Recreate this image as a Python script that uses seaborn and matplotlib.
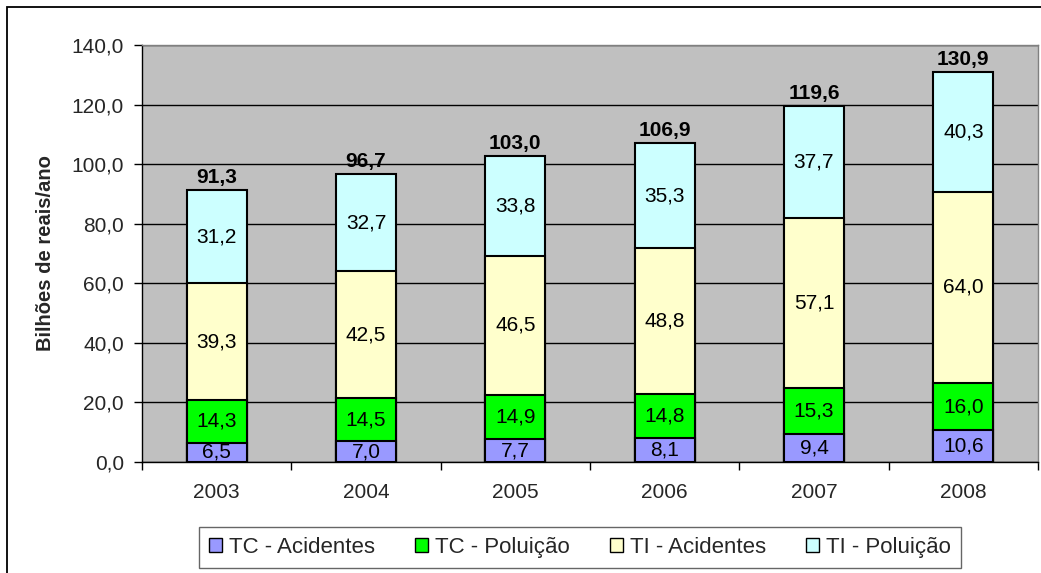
import matplotlib
matplotlib.use("Agg")
import matplotlib.pyplot as plt
from matplotlib.patches import Rectangle, Patch
from matplotlib.ticker import FixedLocator, FuncFormatter
import numpy as np
import pandas as pd
import seaborn as sns

# Custos anuais (bilhões de reais/ano) por componente
anos = ["2003", "2004", "2005", "2006", "2007", "2008"]
tc_acidentes = [6.5, 7.0, 7.7, 8.1, 9.4, 10.6]
tc_poluicao = [14.3, 14.5, 14.9, 14.8, 15.3, 16.0]
ti_acidentes = [39.3, 42.5, 46.5, 48.8, 57.1, 64.0]
ti_poluicao = [31.2, 32.7, 33.8, 35.3, 37.7, 40.3]
totais = [91.3, 96.7, 103.0, 106.9, 119.6, 130.9]

series_nomes = ["TC - Acidentes", "TC - Poluição", "TI - Acidentes", "TI - Poluição"]
series_valores = [tc_acidentes, tc_poluicao, ti_acidentes, ti_poluicao]
cores = ["#9999FF", "#00FF00", "#FFFFCC", "#CCFFFF"]

sns.set_style("ticks")
plt.rcParams["font.family"] = ["Liberation Sans", "DejaVu Sans"]

FS = 15

fig = plt.figure(figsize=(10.41, 5.73), dpi=100)
ax = fig.add_axes([142 / 1041, 1 - 462 / 573, (1038 - 142) / 1041, (462 - 45) / 573])
ax.set_facecolor("#C0C0C0")

vals = np.array(series_valores)
acumulado = np.cumsum(vals, axis=0)

# Empilhamento: desenha do topo para a base, cada camada com a altura acumulada
for i in range(len(series_nomes) - 1, -1, -1):
    df = pd.DataFrame({"ano": anos, "valor": acumulado[i]})
    sns.barplot(data=df, x="ano", y="valor", color=cores[i], saturation=1,
                width=0.4, edgecolor="black", linewidth=1.5, ax=ax, zorder=3)

# Rótulos dos segmentos
fmt = lambda v: f"{v:.1f}".replace(".", ",")
for i, serie in enumerate(series_valores):
    base = acumulado[i] - vals[i]
    for j, v in enumerate(serie):
        ax.text(j, base[j] + v / 2, fmt(v), ha="center", va="center",
                fontsize=FS, color="black", zorder=5)

# Totais acima das barras
for j, t in enumerate(totais):
    ax.text(j, acumulado[-1][j] + 1.0, fmt(t), ha="center", va="bottom",
            fontsize=FS, fontweight="bold", color="black", zorder=5)

ax.set_ylim(0, 140)
ax.set_xlim(-0.5, len(anos) - 0.5)
ax.yaxis.set_major_locator(FixedLocator(np.arange(0, 141, 20)))
ax.yaxis.set_major_formatter(FuncFormatter(lambda v, p: fmt(v)))
ax.yaxis.grid(True, color="black", linewidth=1.0, zorder=0)
ax.set_axisbelow(True)

ax.xaxis.set_minor_locator(FixedLocator(np.arange(-0.5, len(anos), 1.0)))
ax.tick_params(axis="x", which="major", length=0, pad=15, labelsize=FS)
ax.tick_params(axis="x", which="minor", length=6, width=1, direction="out", color="black")
ax.tick_params(axis="y", length=6, width=1, direction="out", labelsize=FS, pad=7, color="black")

ax.set_xlabel("")
ax.set_ylabel("Bilhões de reais/ano", fontsize=14.5, fontweight="bold", labelpad=12)

for s in ["left", "bottom"]:
    ax.spines[s].set_color("black")
    ax.spines[s].set_linewidth(1.0)
for s in ["top", "right"]:
    ax.spines[s].set_color("#808080")
    ax.spines[s].set_linewidth(1.0)

# Legenda
handles = [Patch(facecolor=c, edgecolor="black", linewidth=1.0) for c in cores]
leg = fig.legend(handles, series_nomes, loc="upper center",
                 bbox_to_anchor=(580 / 1041, 1 - 527 / 573), ncol=4,
                 fontsize=16, frameon=True, fancybox=False, handlelength=0.6,
                 handleheight=0.6, handletextpad=0.3, columnspacing=1.8,
                 borderpad=0.45, borderaxespad=0)
leg.get_frame().set_edgecolor("#404040")
leg.get_frame().set_linewidth(1.0)

# Moldura da área do gráfico
fig.patches.append(Rectangle((7 / 1041, -0.1), 1.2, 1.1 - 7 / 573,
                             transform=fig.transFigure, fill=False,
                             edgecolor="black", linewidth=1.3))

fig.savefig("out.png", dpi=100)
